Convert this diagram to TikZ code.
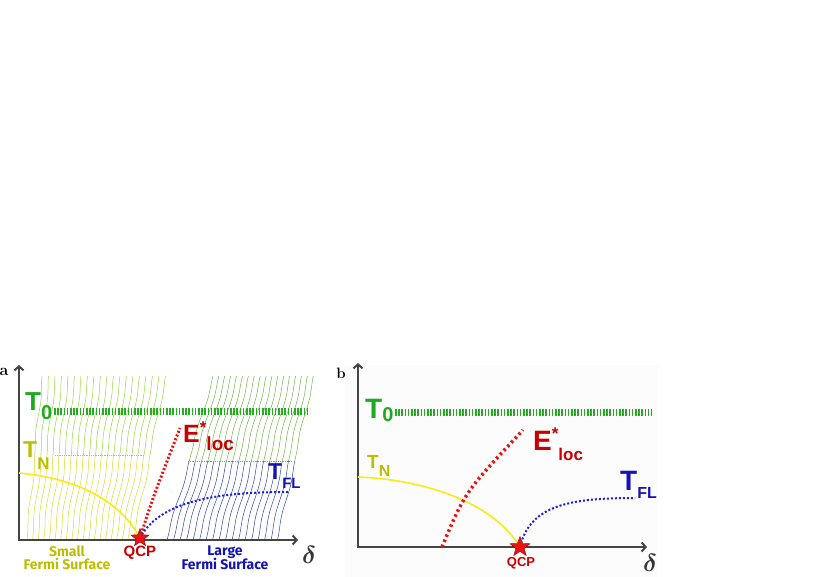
\documentclass[tikz,border=0pt]{standalone}
\usepackage{amsmath}
\usepackage{fontspec}
\setsansfont{Liberation Sans}
\newfontfamily\roundfont{Fira Sans}
\usetikzlibrary{shapes.geometric,decorations.pathmorphing,arrows.meta}

\definecolor{axisgray}{RGB}{68,68,68}
\definecolor{tgreen}{RGB}{30,170,30}
\definecolor{lgreen}{RGB}{60,195,40}
\definecolor{tyellow}{RGB}{190,190,0}
\definecolor{lyellow}{RGB}{250,235,20}
\definecolor{tred}{RGB}{200,0,0}
\definecolor{lred}{RGB}{235,20,20}
\definecolor{tblue}{RGB}{20,20,180}
\definecolor{lblue}{RGB}{30,30,225}
\definecolor{hatchG}{RGB}{150,215,60}
\definecolor{hatchY}{RGB}{215,220,40}
\definecolor{hatchR}{RGB}{110,180,70}
\definecolor{hatchB}{RGB}{45,70,165}

% label with a lowered (or raised) second part
\newcommand{\sublabel}[5]{{\fontsize{#1}{#1}\selectfont #2}\raisebox{#4}{\fontsize{#3}{#3}\selectfont #5}}

\tikzset{
  axis/.style={draw=axisgray, line width=2pt, -{Straight Barb[length=4pt,width=9pt]}},
  lab/.style={anchor=base west, inner sep=0pt, font=\sffamily\bfseries},
  qcp/.style={star, star points=5, star point ratio=2.4, minimum size=19pt, inner sep=0pt,
    fill=lred, draw=tred!70!black, line width=0.4pt},
  wave/.style={line width=0.5pt, decorate, decoration={snake, amplitude=1.2pt, segment length=70pt}},
  tzero/.style={tgreen!80!lgreen, line width=7pt, dash pattern=on 1.6pt off 1.6pt},
}

\begin{document}
\begin{tikzpicture}[x=1pt,y=-1pt]
\useasboundingbox (0,0) rectangle (830,577);

% ---- panel a ----
% flow lines
\foreach \i in {0,...,19}{
  \pgfmathsetmacro\xt{42+6.5*\i}
  \pgfmathsetmacro\xb{27+5.6*\i}
  \pgfmathsetmacro\xm{\xt+(\xb-\xt)*0.482}
  \draw[wave, hatchG] (\xt,376) -- (\xm,455);
  \draw[wave, hatchY] (\xm,455) -- (\xb,540);
}
\foreach \i in {0,...,17}{
  \pgfmathsetmacro\xt{213+5.9*\i}
  \pgfmathsetmacro\xb{167+6.5*\i}
  \pgfmathsetmacro\xm{\xt+(\xb-\xt)*0.518}
  \draw[wave, hatchR] (\xt,376) -- (\xm,461);
  \draw[wave, hatchB] (\xm,461) -- (\xb,540);
}
\draw[hatchG, densely dotted, line width=0.8pt] (55,455) -- (145,455);
\draw[hatchR, densely dotted, line width=0.8pt] (188,461) -- (292,461);

\draw[axis] (19,541) -- (19,365);
\draw[axis] (18,540) -- (298,540);
\node[font=\bfseries\fontsize{16}{16}\selectfont, inner sep=0pt] (la) at (4,372) {a};

\draw[tzero] (54,411) -- (310,411);
\coordinate (qa) at (140,538);
\draw[lyellow, line width=1.6pt] (19,473) .. controls (75,478) and (120,500) .. (qa);
\draw[lred, line width=3pt, dash pattern=on 2pt off 2pt] (qa) .. controls (152,500) .. (180,428);
\draw[lblue, line width=2pt, dash pattern=on 2pt off 2pt] (qa) .. controls (160,500) and (220,492) .. (288,492);
\node[qcp] (stara) at (qa) {};

\node[lab, tgreen] (t0a) at (25,410) {\sublabel{26}{T}{20}{-9pt}{0}};
\node[lab, tyellow] (tna) at (23,457) {\sublabel{23}{T}{17}{-12pt}{N}};
\node[lab, tred] (ea) at (183,442) {\sublabel{25}{E}{17}{9pt}{*}\raisebox{-8pt}{\fontsize{19}{19}\selectfont loc}};
\node[lab, tblue] (tfla) at (268,479) {\sublabel{23}{T}{15}{-9pt}{FL}};

\node[font=\sffamily\bfseries\fontsize{15}{15}\selectfont, tred, inner sep=0pt] (qcpa) at (140,553) {QCP};
\node[font=\roundfont\bfseries\fontsize{14}{14}\selectfont, tyellow, inner sep=0pt, align=center] (smalla) at (67,558) {Small\\[-1pt]Fermi Surface};
\node[font=\roundfont\bfseries\fontsize{14}{14}\selectfont, tblue, inner sep=0pt, align=center] (largea) at (225,558) {Large\\[-1pt]Fermi Surface};
\node[font=\fontsize{27}{27}\selectfont, inner sep=0pt, text=axisgray!80!black] (da) at (309,555) {$\boldsymbol{\delta}$};

% ---- panel b ----
\fill[gray!2] (345,365) rectangle (658,577);
\draw[axis] (358,548) -- (358,363);
\draw[axis] (357,547) -- (647,547);
\node[font=\bfseries\fontsize{15}{15}\selectfont, inner sep=0pt] (lb) at (341,373) {b};

\draw[tzero] (395,412) -- (652,412);
\coordinate (qb) at (520,547);
\draw[lyellow, line width=1.6pt] (358,477) .. controls (430,480) and (495,505) .. (qb);
\draw[lred, line width=3.5pt, dash pattern=on 2.5pt off 3pt] (442,547) .. controls (465,492) .. (523,430);
\draw[lblue, line width=2pt, dash pattern=on 2pt off 2pt] (qb) .. controls (530,505) and (570,498) .. (635,498);
\node[qcp, minimum size=21pt] (starb) at (qb) {};

\node[lab, tgreen] (t0b) at (365,418) {\sublabel{28}{T}{20}{-3pt}{0}};
\node[lab, tyellow] (tnb) at (367,468) {\sublabel{19}{T}{16}{-8pt}{N}};
\node[lab, tred] (eb) at (533,450) {\sublabel{28}{E}{17}{11pt}{*}\raisebox{-10pt}{\fontsize{17}{17}\selectfont loc}};
\node[lab, tblue] (tflb) at (620,490) {\sublabel{28}{T}{16}{-8pt}{FL}};

\node[font=\sffamily\bfseries\fontsize{13}{13}\selectfont, tred, inner sep=0pt] (qcpb) at (521,563) {QCP};
\node[font=\fontsize{27}{27}\selectfont, inner sep=0pt, text=axisgray!80!black] (db) at (650,563) {$\boldsymbol{\delta}$};
\end{tikzpicture}
\end{document}
